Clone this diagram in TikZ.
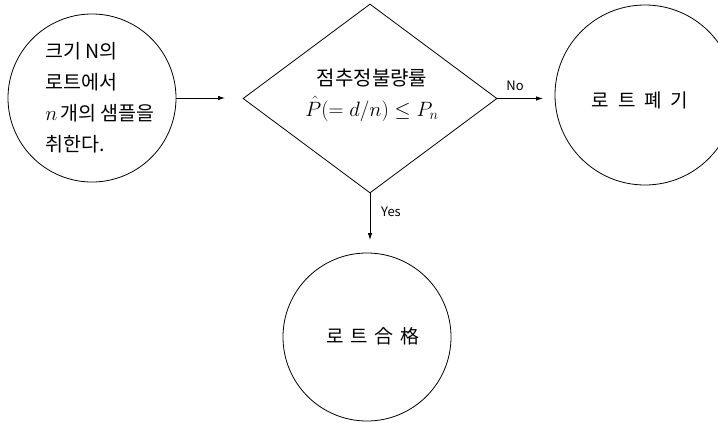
\documentclass[tikz,border=0pt]{standalone}
\usepackage{fontspec}
\setmainfont{Noto Sans CJK KR}
\usetikzlibrary{shapes.geometric,arrows.meta}
\begin{document}
\begin{tikzpicture}[x=1pt,y=-1pt,
  circ/.style={circle,draw,line width=0.8pt,minimum size=#1,inner sep=0pt},
  txt/.style={inner sep=0pt,font=\fontsize{19}{31}\selectfont},
  lbl/.style={inner sep=0pt,font=\fontsize{13}{15}\selectfont},
  arr/.style={line width=0.8pt,-{Latex[length=7pt,width=4.5pt]}}]
\clip (0,0) rectangle (718,423);
\fill[white] (0,0) rectangle (718,423);
\node[circ=168pt] (start) at (92,98) {};
\node[txt,align=left,font=\fontsize{19.5}{31}\selectfont] (starttext) at (100,98) {크기 N의\\로트에서\\$n$\,개의 샘플을\\취한다.};
\node[draw,diamond,line width=0.8pt,minimum width=254pt,minimum height=189pt,inner sep=0pt] (dec) at (370,98.5) {};
\node[txt,align=center,font=\fontsize{20}{31}\selectfont] (dectext) at (372,95) {점추정불량률\\$\hat{P}(=d/n)\leq P_n$};
\node[circ=180pt] (reject) at (645,95) {};
\node[txt] (rejtext) at (640,100) {로\hspace{9pt}트\hspace{9pt}폐\hspace{9pt}기};
\node[circ=168pt] (accept) at (367,337) {};
\node[txt] (acctext) at (373,336) {로\hspace{7pt}트\hspace{7pt}合\hspace{7pt}格};
\coordinate (a1) at (225,98);
\coordinate (a2) at (543,98.5);
\coordinate (a3) at (370,240);
\draw[arr] (start.east) -- (a1);
\draw[arr] (dec.east) -- (a2);
\draw[arr] (dec.south) -- (a3);
\node[lbl] (nolbl) at (515,86) {No};
\node[lbl] (yeslbl) at (391,212) {Yes};
\end{tikzpicture}
\end{document}
